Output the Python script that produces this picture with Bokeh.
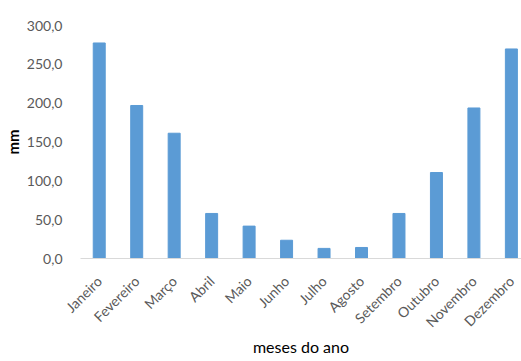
import math
from bokeh.plotting import figure
from bokeh.models import Range1d, FixedTicker, ColumnDataSource
from bokeh.embed import file_html
from bokeh.resources import INLINE

months = ["Janeiro", "Fevereiro", "Março", "Abril", "Maio", "Junho", "Julho",
          "Agosto", "Setembro", "Outubro", "Novembro", "Dezembro"]
rain_mm = [277.5, 197.0, 161.3, 58.0, 41.7, 23.5, 13.0, 14.2, 58.0, 110.7, 193.8, 269.8]
y_ticks = [0, 50, 100, 150, 200, 250, 300]
y_tick_labels = ["0,0", "50,0", "100,0", "150,0", "200,0", "250,0", "300,0"]

xs = list(range(len(months)))
src = ColumnDataSource(dict(x=xs, y=rain_mm))

p = figure(width=521, height=361, output_backend="svg", toolbar_location=None,
           x_range=Range1d(-0.5, 11.27), y_range=Range1d(0, 300),
           min_border_left=79, min_border_right=0, min_border_top=25, min_border_bottom=103)
p.vbar(x="x", top="y", width=0.32, source=src, color="#5b9bd5")

p.outline_line_color = None
p.xgrid.grid_line_color = None
p.ygrid.grid_line_color = None

font = "Lato"
p.xaxis.ticker = FixedTicker(ticks=xs)
p.xaxis.major_label_overrides = {i: m for i, m in enumerate(months)}
p.xaxis.major_label_orientation = math.pi / 4
p.xaxis.major_label_standoff = 14
p.xaxis.major_tick_line_color = None
p.xaxis.minor_tick_line_color = None
p.xaxis.axis_line_color = "#d9d9d9"
p.xaxis.major_label_text_color = "#595959"
p.xaxis.major_label_text_font = font
p.xaxis.major_label_text_font_size = "14px"
p.xaxis.axis_label = "meses do ano"
p.xaxis.axis_label_text_font = font
p.xaxis.axis_label_text_font_style = "normal"
p.xaxis.axis_label_text_font_size = "16px"
p.xaxis.axis_label_text_color = "#000000"
p.xaxis.axis_label_standoff = -2

p.yaxis.ticker = FixedTicker(ticks=y_ticks)
p.yaxis.major_label_overrides = {t: l for t, l in zip(y_ticks, y_tick_labels)}
p.yaxis.major_tick_line_color = None
p.yaxis.minor_tick_line_color = None
p.yaxis.axis_line_color = None
p.yaxis.major_label_text_color = "#595959"
p.yaxis.major_label_text_font = font
p.yaxis.major_label_text_font_size = "14px"
p.yaxis.major_label_standoff = 12
p.yaxis.axis_label = "mm"
p.yaxis.axis_label_text_font = font
p.yaxis.axis_label_text_font_style = "bold"
p.yaxis.axis_label_text_font_size = "15px"
p.yaxis.axis_label_text_color = "#000000"
p.yaxis.axis_label_standoff = 2

open("out.html", "w").write(file_html(p, INLINE))
